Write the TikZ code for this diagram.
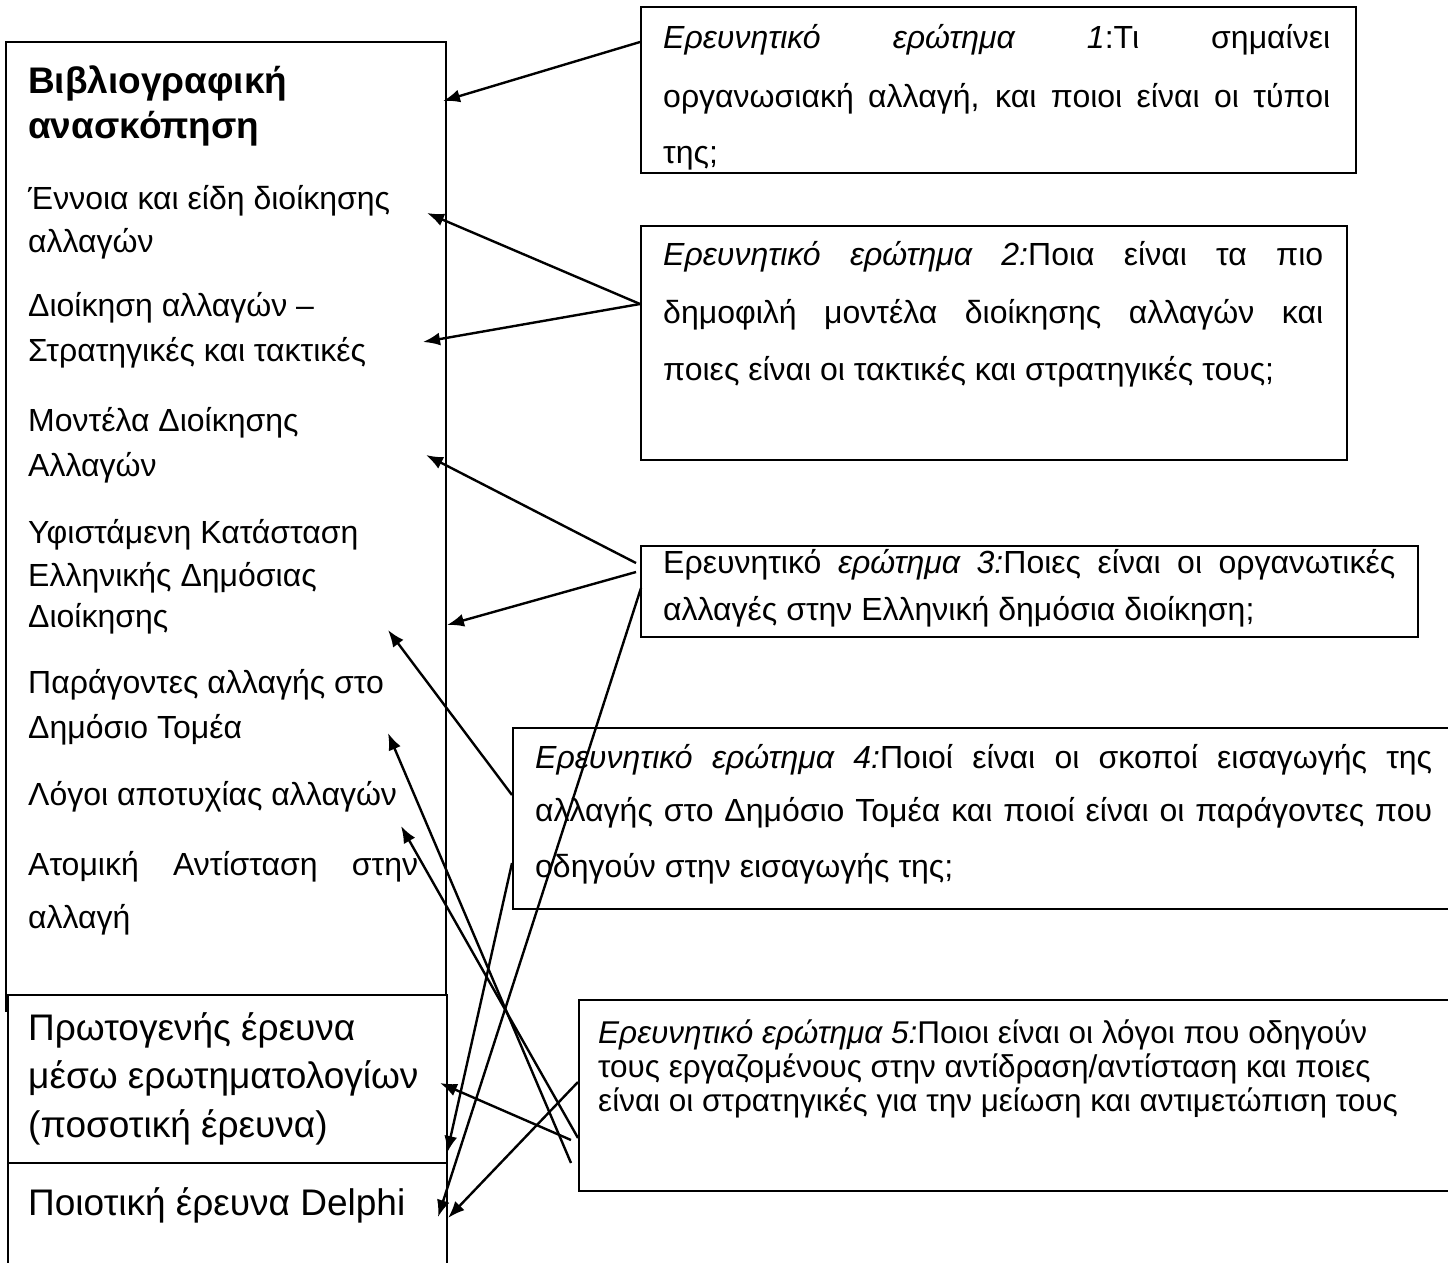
\documentclass[tikz,border=0pt]{standalone}
\usepackage{fontspec}
\setmainfont{Liberation Sans}
\usetikzlibrary{arrows.meta}
\begin{document}
\begin{tikzpicture}[x=1pt,y=-1pt,
  box/.style={draw=black,line width=2pt,fill=white,inner sep=0pt,anchor=north west},
  conn/.style={line width=2.4pt,-{Latex[length=17pt,width=13pt]}},
  item/.style={anchor=base west,inner sep=0pt,font=\fontsize{32pt}{32pt}\selectfont},
  head/.style={anchor=base west,inner sep=0pt,font=\fontsize{37pt}{37pt}\selectfont\bfseries},
  big/.style={anchor=base west,inner sep=0pt,font=\fontsize{37pt}{37pt}\selectfont},
  qt/.style={anchor=base west,inner sep=0pt,font=\fontsize{32pt}{32pt}\selectfont},
  qs/.style={anchor=base west,inner sep=0pt,font=\fontsize{31.5pt}{31.5pt}\selectfont},
]
\useasboundingbox (0,0) rectangle (1448,1262);
\clip (0,0) rectangle (1448,1262);

% left column boxes
\node[box,minimum width=440pt,minimum height=969pt] (lit) at (5,41) {};
\node[box,minimum width=439.5pt,minimum height=168pt] (prim) at (6.5,994) {};
\node[box,minimum width=439pt,minimum height=120pt] (delph) at (7,1162) {};

% question boxes
\node[box,minimum width=715pt,minimum height=166pt] (q1) at (640,6) {};
\node[box,minimum width=706pt,minimum height=234pt] (q2) at (640,225) {};
\node[box,minimum width=777pt,minimum height=91pt] (q3) at (640,545) {};
\node[box,minimum width=958pt,minimum height=181pt] (q4) at (512,727) {};
\node[box,minimum width=892pt,minimum height=191pt] (q5) at (578,999) {};

% left column text
\node[head] (h1) at (28,93) {Βιβλιογραφική};
\node[head] (h2) at (28,138) {ανασκόπηση};
\node[item] (i1a) at (28,209) {Έννοια και είδη διοίκησης};
\node[item] (i1b) at (28,252) {αλλαγών};
\node[item] (i2a) at (28,316) {Διοίκηση αλλαγών –};
\node[item] (i2b) at (28,361) {Στρατηγικές και τακτικές};
\node[item] (i3a) at (28,431) {Μοντέλα Διοίκησης};
\node[item] (i3b) at (28,476) {Αλλαγών};
\node[item] (i4a) at (28,543) {Υφιστάμενη Κατάσταση};
\node[item] (i4b) at (28,586) {Ελληνικής Δημόσιας};
\node[item] (i4c) at (28,627) {Διοίκησης};
\node[item] (i5a) at (28,693) {Παράγοντες αλλαγής στο};
\node[item] (i5b) at (28,738) {Δημόσιο Τομέα};
\node[item] (i6a) at (28,805) {Λόγοι αποτυχίας αλλαγών};
\node[item] (i7a) at (28,875) {\makebox[390pt][s]{Ατομική Αντίσταση στην}};
\node[item] (i7b) at (28,928) {αλλαγή};

\node[big] (p1) at (28,1040) {Πρωτογενής έρευνα};
\node[big] (p2) at (28,1088) {μέσω ερωτηματολογίων};
\node[big] (p3) at (28,1137) {(ποσοτική έρευνα)};
\node[big] (d1) at (28,1215) {Ποιοτική έρευνα Delphi};

% question texts
\node[qt] (q1a) at (663,48) {\makebox[667pt][s]{\itshape Ερευνητικό ερώτημα 1\upshape:Τι σημαίνει}};
\node[qt] (q1b) at (663,107) {\makebox[667pt][s]{οργανωσιακή αλλαγή, και ποιοι είναι οι τύποι}};
\node[qt] (q1c) at (663,163) {της;};

\node[qt] (q2a) at (663,265) {\makebox[660pt][s]{\itshape Ερευνητικό ερώτημα 2:\upshape Ποια είναι τα πιο}};
\node[qt] (q2b) at (663,323) {\makebox[660pt][s]{δημοφιλή μοντέλα διοίκησης αλλαγών και}};
\node[qt] (q2c) at (663,380) {ποιες είναι οι τακτικές και στρατηγικές τους;};

\node[qt] (q3a) at (663,573) {\makebox[732pt][s]{Ερευνητικό \itshape ερώτημα 3:\upshape Ποιες είναι οι οργανωτικές}};
\node[qt] (q3b) at (663,620) {αλλαγές στην Ελληνική δημόσια διοίκηση;};

\node[qt] (q4a) at (535,768) {\makebox[897pt][s]{\itshape Ερευνητικό ερώτημα 4:\upshape Ποιοί είναι οι σκοποί εισαγωγής της}};
\node[qt] (q4b) at (535,821) {\makebox[897pt][s]{αλλαγής στο Δημόσιο Τομέα και ποιοί είναι οι παράγοντες που}};
\node[qt] (q4c) at (535,877) {οδηγούν στην εισαγωγής της;};

\node[qs] (q5a) at (598,1043) {\itshape Ερευνητικό ερώτημα 5:\upshape Ποιοι είναι οι λόγοι που οδηγούν};
\node[qs] (q5b) at (598,1077) {τους εργαζομένους στην αντίδραση/αντίσταση και ποιες};
\node[qs] (q5c) at (598,1111) {είναι οι στρατηγικές για την μείωση και αντιμετώπιση τους};

% connector end points
\coordinate (s1) at (640,42);   \coordinate (e1) at (443,101);
\coordinate (s2) at (640,304);  \coordinate (e2) at (427,213);
                                \coordinate (e3) at (423,342);
\coordinate (s4) at (636,563);  \coordinate (e4) at (426,455);
\coordinate (s5) at (636,572);  \coordinate (e5) at (447,625);
\coordinate (s6) at (641,588);  \coordinate (e6) at (438,1217);
\coordinate (s7) at (512,795);  \coordinate (e7) at (388,630);
\coordinate (s8) at (512,863);  \coordinate (e8) at (447,1153);
\coordinate (s9) at (571,1163); \coordinate (e9) at (388,733);
\coordinate (s10) at (578,1138);\coordinate (e10) at (401,826);
\coordinate (s11) at (571,1140);\coordinate (e11) at (440,1083);
\coordinate (s12) at (578,1082);\coordinate (e12) at (448,1218);

\draw[conn] (s1) -- (e1);
\draw[conn] (s2) -- (e2);
\draw[conn] (s2) -- (e3);
\draw[conn] (s4) -- (e4);
\draw[conn] (s5) -- (e5);
\draw[conn] (s6) -- (e6);
\draw[conn] (s7) -- (e7);
\draw[conn] (s8) -- (e8);
\draw[conn] (s9) -- (e9);
\draw[conn] (s10) -- (e10);
\draw[conn] (s11) -- (e11);
\draw[conn] (s12) -- (e12);
\end{tikzpicture}
\end{document}
